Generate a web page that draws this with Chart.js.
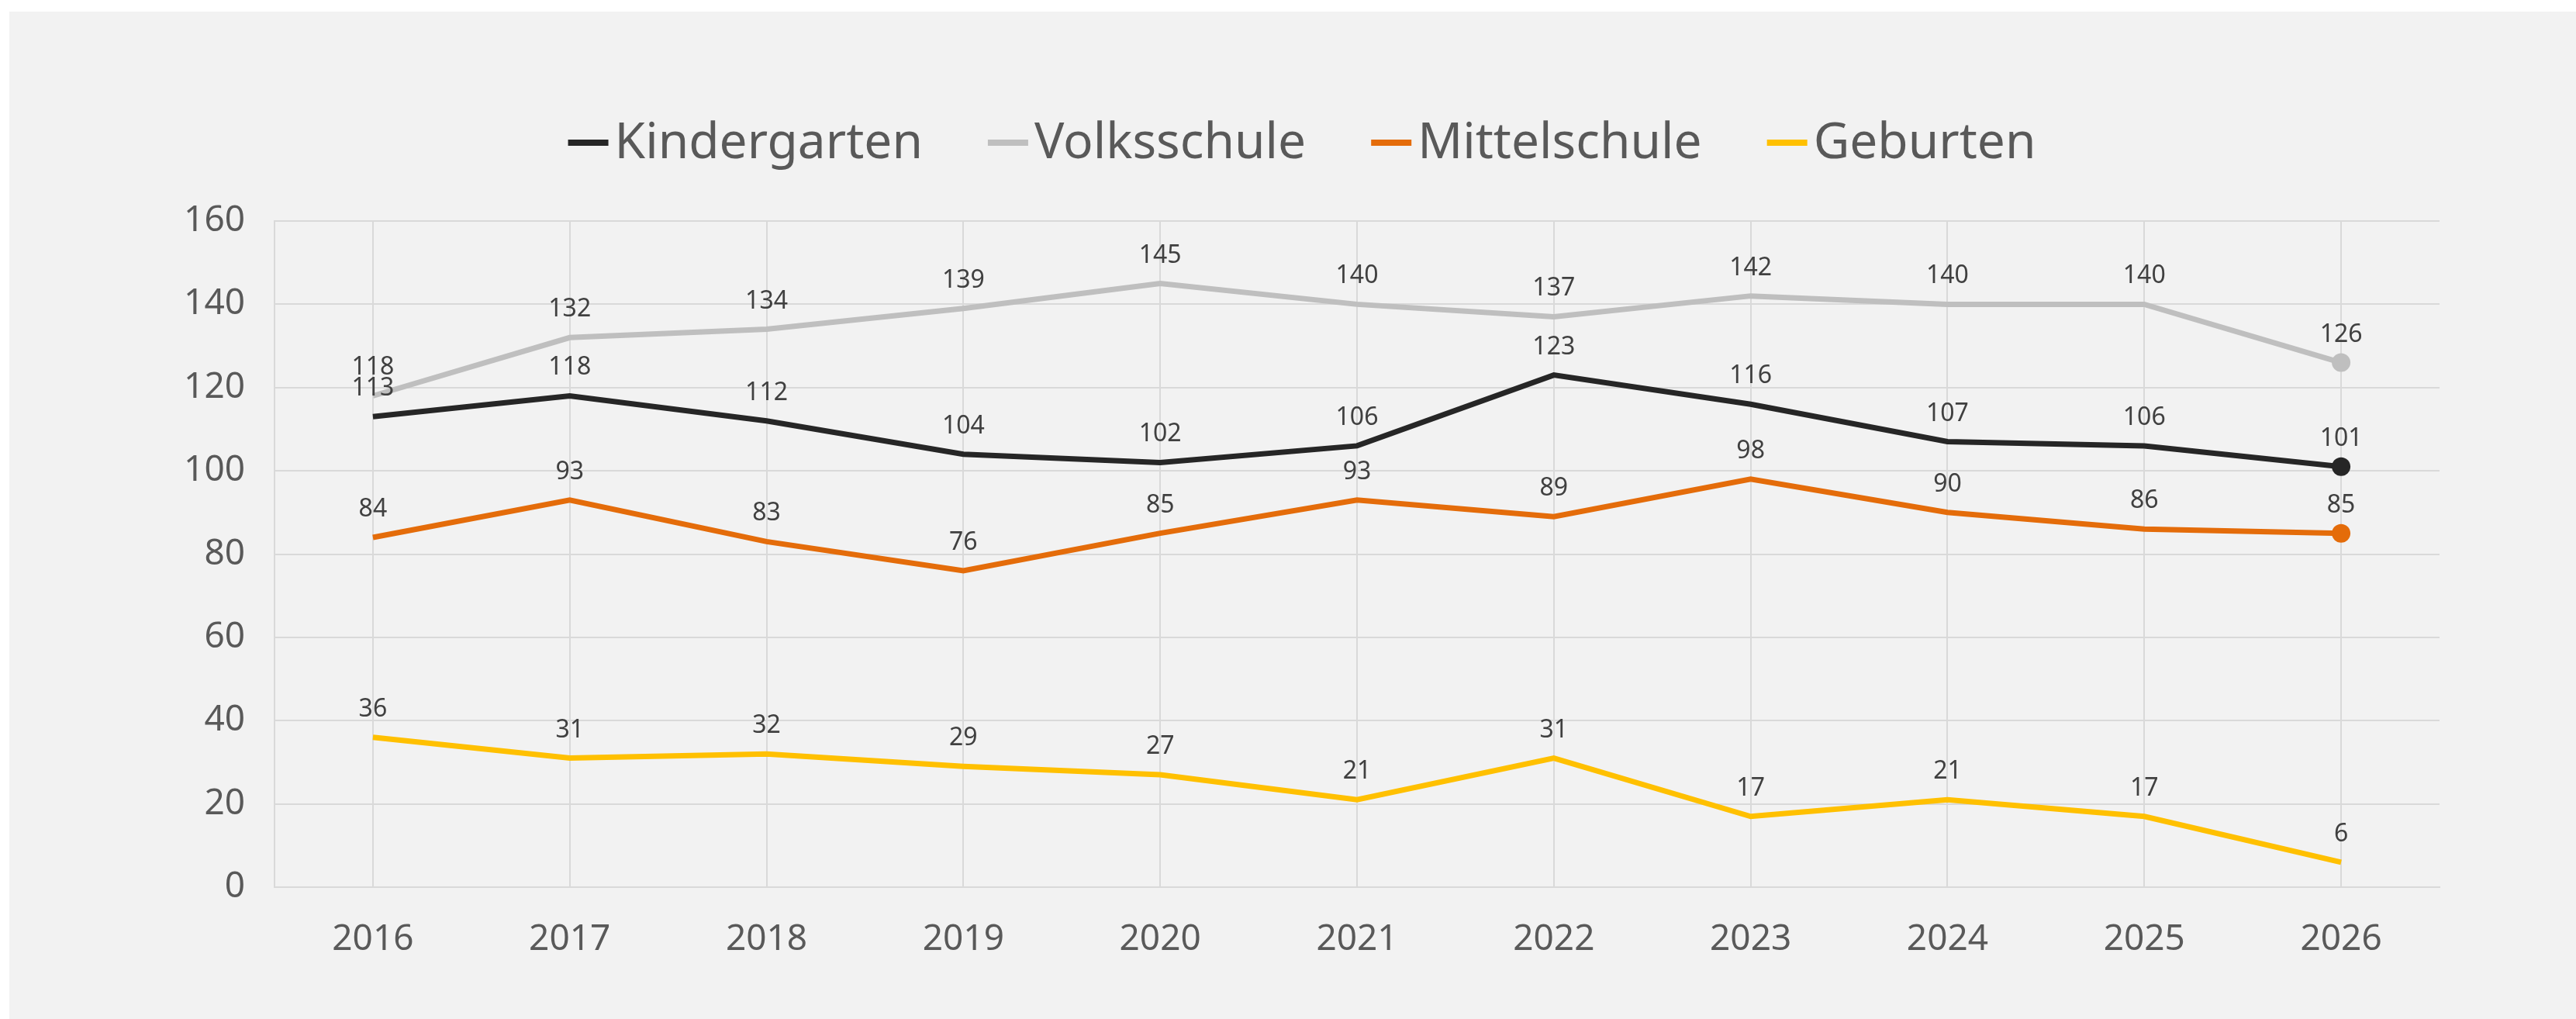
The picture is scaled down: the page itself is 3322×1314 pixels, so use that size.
<!DOCTYPE html>
<html>
<head>
<meta charset="utf-8">
<script src="https://cdn.jsdelivr.net/npm/chart.js@4.4.1/dist/chart.umd.min.js"></script>
<style>
  html, body { margin: 0; padding: 0; background: #ffffff; }
  #wrap { position: absolute; left: 12px; top: 15px; width: 3310px; height: 1299px; background: #f2f2f2; }
</style>
</head>
<body>
<div id="wrap"><canvas id="schoolChart" width="3310" height="1299"></canvas></div>
<script>
const years = ['2016', '2017', '2018', '2019', '2020', '2021', '2022', '2023', '2024', '2025', '2026'];
const kindergarten = [113, 118, 112, 104, 102, 106, 123, 116, 107, 106, 101];
const volksschule = [118, 132, 134, 139, 145, 140, 137, 142, 140, 140, 126];
const mittelschule = [84, 93, 83, 76, 85, 93, 89, 98, 90, 86, 85];
const geburten = [36, 31, 32, 29, 27, 21, 31, 17, 21, 17, 6];
const yTicks = [0, 20, 40, 60, 80, 100, 120, 140, 160];

const FONT = '"Noto Sans", "Open Sans", sans-serif';

// nur der letzte Punkt bekommt einen Marker
function lastPointOnly(radius) {
    return ctx => (ctx.dataIndex === years.length - 1 ? radius : 0);
}

function makeSeries(label, data, color, marker) {
    return {
        label: label,
        data: data,
        borderColor: color,
        backgroundColor: color,
        borderWidth: 7,
        tension: 0,
        pointRadius: marker ? lastPointOnly(12) : 0,
        pointHoverRadius: marker ? lastPointOnly(12) : 0,
        pointBorderWidth: 0,
        pointBackgroundColor: color
    };
}

// Werte ueber den Punkten
const valueLabels = {
    id: 'valueLabels',
    afterDatasetsDraw(chart) {
        const ctx = chart.ctx;
        ctx.save();
        ctx.font = '32px ' + FONT;
        ctx.fillStyle = '#404040';
        ctx.textAlign = 'center';
        ctx.textBaseline = 'alphabetic';
        chart.data.datasets.forEach((ds, i) => {
            const meta = chart.getDatasetMeta(i);
            meta.data.forEach((pt, j) => {
                ctx.fillText(String(ds.data[j]), pt.x, pt.y - 27);
            });
        });
        ctx.restore();
    }
};

// Legende oben, zentriert, kurzer Strich + Text
const topLegend = {
    id: 'topLegend',
    afterDraw(chart) {
        const ctx = chart.ctx;
        const dashW = 52, dashH = 8, gapText = 8, gapItem = 84;
        ctx.save();
        ctx.font = '64px ' + FONT;
        ctx.textBaseline = 'middle';
        ctx.textAlign = 'left';
        const items = chart.data.datasets.map(ds => ({
            label: ds.label,
            color: ds.borderColor,
            w: ctx.measureText(ds.label).width
        }));
        let total = 0;
        items.forEach((it, i) => {
            total += dashW + gapText + it.w + (i < items.length - 1 ? gapItem : 0);
        });
        let x = (chart.width - total) / 2 + 12;
        const y = 169;
        items.forEach(it => {
            ctx.fillStyle = it.color;
            ctx.fillRect(x, y - dashH / 2, dashW, dashH);
            x += dashW + gapText;
            ctx.fillStyle = '#595959';
            ctx.fillText(it.label, x, y + 2);
            x += it.w + gapItem;
        });
        ctx.restore();
    }
};

const ctx = document.getElementById('schoolChart').getContext('2d');
const schoolChart = new Chart(ctx, {
    type: 'line',
    data: {
        labels: years,
        datasets: [
            makeSeries('Kindergarten', kindergarten, '#262626', true),
            makeSeries('Volksschule', volksschule, '#bfbfbf', true),
            makeSeries('Mittelschule', mittelschule, '#e46c0a', true),
            makeSeries('Geburten', geburten, '#ffc000', false)
        ]
    },
    options: {
        responsive: false,
        animation: false,
        layout: {
            padding: { top: 270, right: 176, bottom: 0, left: 0 }
        },
        plugins: {
            legend: { display: false },
            tooltip: { enabled: false }
        },
        scales: {
            x: {
                offset: true,
                grid: { color: '#d9d9d9', lineWidth: 2, drawTicks: false, offset: false },
                border: { color: '#d9d9d9', width: 2 },
                ticks: { color: '#595959', font: { family: FONT, size: 46 }, padding: 40 },
                afterFit(scale) { scale.height = 170; }
            },
            y: {
                min: 0,
                max: 160,
                afterBuildTicks(scale) { scale.ticks = yTicks.map(v => ({ value: v })); },
                grid: { color: '#d9d9d9', lineWidth: 2, drawTicks: false },
                border: { color: '#d9d9d9', width: 2 },
                ticks: { color: '#595959', font: { family: FONT, size: 46 }, padding: 38 },
                afterFit(scale) { scale.width = 342; }
            }
        }
    },
    plugins: [valueLabels, topLegend]
});
</script>
</body>
</html>
